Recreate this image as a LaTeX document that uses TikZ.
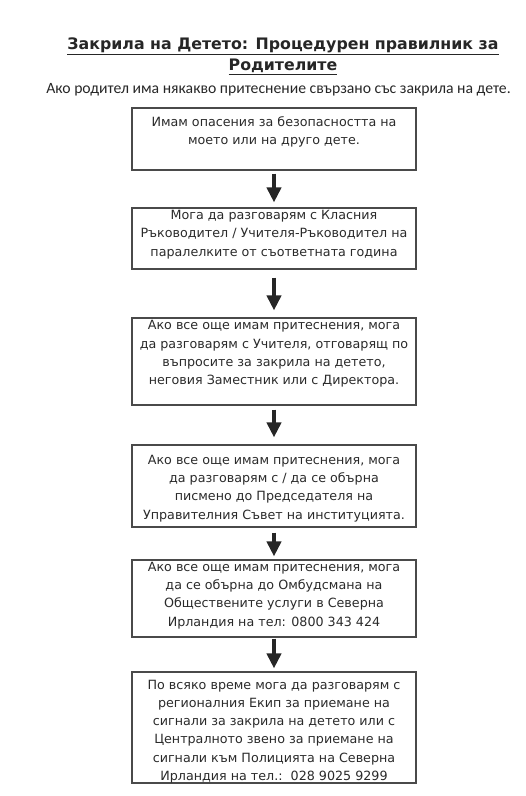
\documentclass[tikz,border=0pt]{standalone}
\usepackage{fontspec}
\setmainfont{DejaVu Sans}
\newfontfamily\subfont{Carlito}
\usetikzlibrary{arrows.meta}
\definecolor{ink}{HTML}{2A2A2A}
\definecolor{edge}{HTML}{4A4A4A}
\tikzset{
  box/.style={draw=edge, line width=1.1pt, minimum width=284pt, inner sep=0pt},
  txt/.style={align=center, text=ink, font=\fontsize{12.7}{18.3}\selectfont, inner sep=0pt},
  flow/.style={draw=black!85, line width=4pt, -{Triangle[width=14pt,length=15pt]}},
  titletxt/.style={align=center, text=black!85, font=\bfseries\fontsize{15.8}{21}\selectfont, inner sep=0pt},
  subtxt/.style={text=black!85, font=\subfont\fontsize{15.7}{17}\selectfont, inner sep=0pt}
}
\begin{document}
\begin{tikzpicture}[x=1pt, y=-1pt]
\useasboundingbox (0,0) rectangle (526,796);
\node[titletxt] (title) at (283,56) {\underline{Закрила на Детето: Процедурен правилник за}\\\underline{Родителите}};
\node[subtxt] (sub) at (278.5,90) {Ако родител има някакво притеснение свързано със закрила на дете.};

\node[box, minimum height=62pt] (b1) at (274,139) {};
\node[box, minimum height=61pt] (b2) at (274,238.5) {};
\node[box, minimum height=87pt] (b3) at (274,361.5) {};
\node[box, minimum height=82pt] (b4) at (274,486) {};
\node[box, minimum height=77pt] (b5) at (274,598.5) {};
\node[box, minimum height=111pt] (b6) at (274,727.5) {};

\node[txt] (t1) at (274,132) {Имам опасения за безопасността на\\моето или на друго дете.};
\node[txt] (t2) at (274,234.5) {Мога да разговарям с Класния\\Ръководител / Учителя-Ръководител на\\паралелките от съответната година};
\node[txt] (t3) at (274,354) {Ако все още имам притеснения, мога\\да разговарям с Учителя, отговарящ по\\въпросите за закрила на детето,\\неговия Заместник или с Директора.};
\node[txt] (t4) at (274,488.5) {Ако все още имам притеснения, мога\\да разговарям с / да се обърна\\писмено до Председателя на\\Управителния Съвет на институцията.};
\node[txt] (t5) at (274,595.5) {Ако все още имам притеснения, мога\\да се обърна до Омбудсмана на\\Обществените услуги в Северна\\Ирландия на тел: 0800 343 424};
\node[txt] (t6) at (274,731.5) {По всяко време мога да разговарям с\\регионалния Екип за приемане на\\сигнали за закрила на детето или с\\Централното звено за приемане на\\сигнали към Полицията на Северна\\Ирландия на тел.:\ \ 028 9025 9299};

\draw[flow, shorten <=3pt, shorten >=5pt] (b1) -- (b2);
\draw[flow, shorten <=8pt, shorten >=7pt] (b2) -- (b3);
\draw[flow, shorten <=4pt, shorten >=7pt] (b3) -- (b4);
\draw[flow, shorten <=5pt, shorten >=3pt] (b4) -- (b5);
\draw[flow, shorten <=1pt, shorten >=3pt] (b5) -- (b6);
\end{tikzpicture}
\end{document}
